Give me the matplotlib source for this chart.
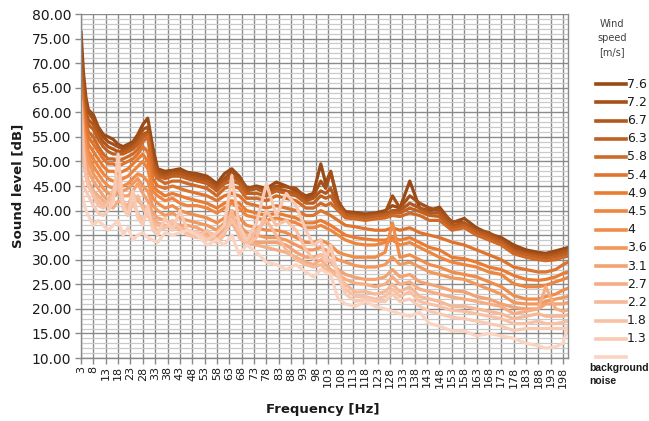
import numpy as np
import matplotlib
matplotlib.use("Agg")
import matplotlib.pyplot as plt
from matplotlib.lines import Line2D
from matplotlib.ticker import MultipleLocator

# frequency points [Hz]
freq = [3, 4, 5, 6, 8, 10,
        12, 14, 16, 18, 20,
        22, 24, 26, 28, 30,
        32, 34, 37, 40, 43,
        46, 50, 54, 58, 61,
        64, 67, 70, 74, 78,
        82, 86, 90, 94, 97,
        100, 102, 104, 107, 110,
        114, 118, 122, 126, 129,
        132, 136, 140, 144, 148,
        153, 158, 163, 168, 173,
        178, 183, 188, 191, 195,
        198, 200]

wind = ["7.6", "7.2", "6.7", "6.3", "5.8", "5.4", "4.9", "4.5",
        "4", "3.6", "3.1", "2.7", "2.2", "1.8", "1.3", "background noise"]

# sound level [dB] per wind speed
s76 = [76.5, 68.0, 63.0, 60.5, 59.5, 57.0,
       55.5, 55.0, 54.5, 53.5, 53.0,
       53.5, 54.0, 55.5, 57.5, 58.8,
       53.0, 48.5, 48.0, 48.2, 48.5,
       47.8, 47.5, 47.0, 45.5, 47.5,
       48.5, 47.0, 44.5, 45.0, 44.5,
       45.8, 45.0, 44.0, 43.0, 43.5,
       49.5, 45.5, 48.0, 41.5, 39.8,
       39.6, 39.3, 39.5, 40.0, 41.0,
       40.5, 46.0, 40.5, 40.0, 40.7,
       37.5, 38.4, 36.5, 35.3, 34.5,
       33.0, 32.0, 31.5, 31.3, 31.8,
       32.2, 32.5]
s72 = [72.0, 66.0, 61.5, 60.0, 58.5, 56.5,
       55.0, 54.0, 53.5, 53.0, 52.5,
       53.0, 53.5, 55.0, 56.5, 57.0,
       51.0, 48.0, 47.5, 47.8, 48.0,
       47.5, 47.0, 46.5, 45.0, 46.5,
       48.0, 46.5, 44.8, 44.5, 44.0,
       45.0, 44.8, 44.5, 42.5, 43.0,
       46.0, 44.5, 47.8, 42.0, 39.5,
       39.3, 39.0, 39.3, 39.5, 43.0,
       40.5, 43.0, 41.5, 40.5, 40.0,
       37.8, 37.5, 36.0, 35.5, 34.0,
       32.5, 31.5, 31.0, 31.0, 31.3,
       31.8, 32.0]
s67 = [70.0, 64.0, 60.0, 58.5, 57.5, 55.5,
       54.0, 53.0, 52.5, 52.0, 52.0,
       52.5, 53.0, 54.0, 55.5, 56.0,
       50.0, 47.5, 47.0, 47.5, 47.5,
       47.0, 46.5, 46.0, 44.5, 46.0,
       47.0, 46.0, 44.0, 44.5, 43.5,
       44.5, 44.0, 43.5, 42.0, 42.5,
       44.0, 43.5, 44.5, 41.0, 39.2,
       39.0, 38.8, 39.0, 39.3, 40.0,
       40.0, 41.5, 40.5, 39.5, 39.5,
       37.0, 37.3, 35.8, 35.0, 33.8,
       32.0, 31.2, 30.8, 30.7, 31.0,
       31.5, 31.8]
s63 = [68.0, 62.5, 59.0, 57.5, 56.5, 54.5,
       53.0, 52.0, 51.5, 51.5, 51.5,
       52.0, 52.5, 53.5, 55.0, 55.5,
       49.0, 47.0, 46.5, 47.0, 47.0,
       46.5, 46.0, 45.5, 44.0, 45.5,
       46.0, 45.5, 43.5, 43.5, 43.0,
       44.0, 43.5, 43.0, 41.5, 41.5,
       43.0, 42.5, 43.0, 40.5, 39.0,
       38.7, 38.5, 38.8, 39.0, 39.5,
       39.5, 40.5, 39.8, 39.0, 38.8,
       36.5, 37.0, 35.5, 34.5, 33.5,
       31.7, 31.0, 30.5, 30.3, 30.6,
       31.0, 31.2]
s58 = [66.0, 61.0, 58.0, 56.0, 55.0, 53.0,
       51.5, 50.5, 50.5, 50.0, 50.5,
       51.0, 51.5, 52.5, 54.0, 55.0,
       48.0, 46.5, 45.5, 46.0, 46.0,
       45.5, 45.0, 44.5, 43.0, 44.5,
       45.0, 44.5, 42.5, 42.5, 42.0,
       43.0, 42.5, 42.0, 40.5, 40.5,
       41.5, 41.0, 41.5, 40.0, 38.5,
       38.3, 38.0, 38.3, 38.5, 39.0,
       38.8, 39.5, 39.0, 38.0, 38.0,
       36.0, 36.5, 35.0, 34.0, 33.0,
       31.2, 30.5, 30.0, 29.8, 30.0,
       30.5, 30.7]
s54 = [65.0, 60.0, 57.0, 55.0, 53.5, 52.0,
       50.5, 49.5, 49.5, 49.0, 49.5,
       50.0, 50.5, 51.5, 53.0, 52.0,
       46.5, 45.0, 44.5, 45.0, 44.5,
       44.0, 43.5, 43.0, 42.0, 43.0,
       43.5, 43.0, 41.5, 41.0, 40.5,
       41.0, 40.5, 40.0, 39.0, 39.0,
       40.0, 39.5, 39.0, 38.0, 37.0,
       36.7, 36.3, 36.0, 36.0, 36.5,
       36.0, 36.5, 35.5, 35.0, 34.5,
       33.6, 33.0, 32.0, 31.0, 30.0,
       28.5, 28.0, 27.5, 27.5, 28.0,
       29.0, 29.5]
s49 = [64.0, 58.5, 55.5, 53.5, 52.0, 50.5,
       49.0, 48.0, 48.0, 47.5, 48.0,
       48.5, 49.5, 50.5, 51.5, 50.0,
       45.0, 44.0, 43.0, 43.5, 43.0,
       42.5, 42.0, 41.5, 40.5, 41.5,
       42.0, 41.5, 40.0, 39.5, 39.0,
       39.5, 39.0, 38.5, 37.5, 37.5,
       38.0, 37.5, 37.0, 36.0, 35.0,
       34.5, 34.2, 34.0, 34.0, 34.5,
       34.0, 34.5, 33.5, 32.5, 32.0,
       30.5, 30.2, 29.5, 28.5, 28.0,
       26.8, 26.0, 25.8, 26.0, 26.5,
       27.2, 27.5]
s45 = [63.0, 57.0, 54.0, 52.0, 50.5, 49.0,
       47.5, 46.5, 46.0, 46.0, 46.5,
       47.0, 48.0, 49.0, 50.0, 48.5,
       44.0, 43.0, 42.0, 42.5, 41.5,
       41.0, 41.0, 40.5, 39.5, 40.5,
       41.5, 40.5, 39.0, 38.5, 38.0,
       38.5, 38.0, 37.5, 36.5, 36.5,
       37.0, 36.5, 36.0, 35.0, 34.0,
       33.3, 33.0, 33.0, 33.5, 34.0,
       33.0, 33.5, 32.5, 31.5, 30.5,
       29.5, 29.0, 28.5, 27.5, 27.0,
       25.1, 24.5, 24.5, 24.8, 25.5,
       26.0, 26.4]
s40 = [62.0, 56.0, 53.0, 51.0, 49.0, 47.5,
       46.0, 45.0, 44.5, 44.5, 45.0,
       45.5, 46.5, 47.5, 47.0, 46.0,
       42.5, 41.5, 40.5, 41.0, 40.0,
       39.5, 39.0, 38.5, 37.5, 38.5,
       40.0, 38.5, 37.0, 36.5, 36.0,
       36.0, 35.5, 34.5, 33.5, 33.5,
       34.0, 33.5, 33.0, 31.5, 31.0,
       30.5, 30.5, 30.5, 31.5, 37.5,
       30.5, 31.0, 30.0, 29.0, 28.5,
       27.5, 27.0, 26.5, 25.5, 24.5,
       22.7, 22.0, 22.0, 22.5, 23.0,
       23.8, 24.2]
s36 = [62.5, 56.5, 52.0, 50.0, 47.5, 46.0,
       44.5, 43.5, 43.0, 43.5, 44.0,
       44.5, 45.5, 46.5, 45.0, 44.0,
       41.0, 40.0, 39.0, 39.5, 38.5,
       38.0, 37.5, 37.0, 36.0, 37.5,
       39.0, 37.0, 35.5, 35.0, 34.5,
       34.5, 34.0, 33.0, 32.0, 32.0,
       32.5, 32.0, 31.0, 30.0, 29.5,
       28.8, 28.5, 28.5, 29.0, 30.5,
       29.0, 29.5, 28.5, 27.5, 27.0,
       26.3, 26.0, 25.0, 24.0, 23.0,
       21.3, 21.0, 21.0, 21.5, 22.0,
       22.3, 22.5]
s31 = [60.0, 54.0, 50.0, 48.0, 46.0, 44.5,
       43.0, 42.0, 42.5, 45.0, 43.0,
       43.0, 44.0, 45.5, 43.5, 42.0,
       39.5, 38.5, 38.0, 37.5, 37.0,
       37.0, 36.5, 35.5, 35.0, 36.5,
       38.0, 36.0, 34.5, 33.5, 33.5,
       33.5, 33.0, 31.5, 30.5, 30.5,
       31.0, 30.5, 29.5, 28.0, 27.0,
       26.4, 26.0, 26.0, 26.5, 28.0,
       26.5, 27.0, 25.5, 25.0, 24.5,
       23.7, 23.5, 22.5, 22.0, 21.0,
       20.3, 20.0, 20.0, 21.0, 21.0,
       21.0, 21.3]
s27 = [58.0, 52.0, 48.0, 46.0, 44.0, 43.0,
       42.0, 41.0, 40.5, 42.0, 41.5,
       41.0, 43.5, 42.0, 41.0, 40.5,
       38.5, 37.5, 37.0, 36.5, 36.5,
       36.0, 35.5, 35.0, 34.0, 36.0,
       37.5, 35.0, 33.5, 33.0, 32.5,
       32.0, 31.5, 30.5, 29.5, 29.0,
       30.0, 29.0, 28.0, 27.0, 26.0,
       25.2, 25.0, 24.5, 25.0, 26.5,
       25.0, 25.5, 24.0, 23.5, 23.0,
       22.4, 22.0, 21.5, 21.0, 20.5,
       19.0, 19.5, 20.0, 24.5, 20.0,
       19.5, 19.8]
s22 = [55.0, 50.0, 47.0, 45.0, 43.5, 42.0,
       41.0, 42.0, 44.0, 47.0, 42.0,
       40.0, 41.0, 43.0, 40.5, 39.0,
       37.5, 37.0, 36.5, 37.5, 36.0,
       35.5, 35.0, 34.5, 33.5, 35.0,
       40.0, 34.5, 33.0, 36.0, 38.0,
       35.0, 32.0, 30.0, 29.0, 28.5,
       29.0, 28.0, 27.5, 26.5, 25.0,
       23.4, 23.5, 23.0, 23.5, 25.0,
       23.5, 24.5, 22.5, 22.0, 21.5,
       20.5, 20.5, 20.0, 19.5, 19.0,
       18.0, 18.5, 19.0, 18.5, 18.5,
       18.5, 18.8]
s18 = [62.0, 52.0, 47.0, 45.0, 43.0, 41.0,
       40.5, 41.5, 43.0, 45.5, 40.5,
       39.0, 41.5, 39.5, 38.0, 39.5,
       37.0, 36.0, 36.5, 38.0, 36.5,
       35.0, 34.5, 36.0, 34.0, 35.5,
       38.0, 36.0, 33.0, 34.5, 40.0,
       37.0, 38.0, 36.0, 32.0, 30.0,
       31.0, 29.5, 30.0, 27.5, 24.0,
       22.5, 22.5, 22.0, 22.5, 24.0,
       22.5, 23.5, 21.5, 21.0, 20.5,
       19.7, 19.5, 19.0, 18.5, 18.0,
       17.0, 17.0, 17.5, 17.0, 17.0,
       17.3, 17.5]
s13 = [47.0, 45.0, 44.0, 43.0, 41.0, 39.5,
       39.0, 40.0, 42.0, 51.5, 41.0,
       39.0, 44.0, 38.5, 37.0, 41.0,
       36.0, 35.0, 38.5, 36.0, 40.0,
       36.0, 35.5, 34.0, 35.5, 37.0,
       47.0, 37.0, 34.0, 37.5, 45.5,
       39.0, 43.5, 41.0, 36.0, 33.0,
       34.0, 30.0, 33.0, 26.5, 23.0,
       21.5, 22.0, 21.5, 21.5, 23.0,
       21.5, 22.0, 20.5, 19.5, 19.0,
       18.3, 18.0, 17.5, 17.0, 16.5,
       15.6, 16.0, 16.0, 16.0, 16.0,
       16.0, 16.2]
bg = [45.0, 42.0, 40.0, 39.0, 37.0, 38.0,
      37.0, 36.0, 37.0, 38.0, 35.0,
      36.5, 34.0, 35.0, 35.5, 34.5,
      34.0, 33.5, 35.5, 35.0, 35.5,
      36.0, 35.0, 33.0, 34.0, 33.0,
      35.0, 31.0, 33.0, 31.5, 29.5,
      29.0, 28.0, 29.0, 27.5, 26.5,
      28.0, 27.5, 27.0, 22.0, 21.0,
      20.5, 21.5, 20.5, 20.0, 19.5,
      19.0, 18.5, 19.3, 17.0, 16.5,
      15.5, 15.5, 14.5, 15.0, 14.5,
      14.0, 13.0, 12.5, 12.0, 12.3,
      13.0, 16.5]

series = [s76, s72, s67, s63, s58, s54, s49, s45,
          s40, s36, s31, s27, s22, s18, s13, bg]
colors = ["#9A4A16", "#A65019", "#B2581D", "#BF6122", "#D06A28", "#DF742E",
          "#EA7C32", "#EF853E", "#F18D4B", "#F3985C", "#F4A271", "#F5AD83",
          "#F7B895", "#F8C1A5", "#F9CAB3", "#FAD3C1"]
freq_ticks = list(range(3, 199, 5))

W, H = 649, 421
fig = plt.figure(figsize=(W / 100, H / 100), dpi=100)
ax = fig.add_axes([81 / W, 1 - 358 / H, 487 / W, 344 / H])

# grid: light 1 dB lines, darker 5 dB lines, vertical every 5 Hz
ax.set_ylim(10, 80)
ax.set_xlim(3, 200)
ax.yaxis.set_major_locator(MultipleLocator(5))
ax.yaxis.set_minor_locator(MultipleLocator(1))
ax.set_xticks(freq_ticks)
ax.set_xticklabels([str(f) for f in freq_ticks], rotation=90)
ax.set_yticks(np.arange(10, 81, 5))
ax.set_yticklabels([f"{v:.2f}" for v in np.arange(10, 81, 5)])
ax.grid(True, which="minor", axis="y", color="#CACACA", linewidth=0.9)
ax.grid(True, which="major", axis="y", color="#8A8A8A", linewidth=1.0)
ax.grid(True, which="major", axis="x", color="#8A8A8A", linewidth=1.0)
ax.set_axisbelow(True)

ax.spines["top"].set_visible(False)
for sp in ["left", "bottom", "right"]:
    ax.spines[sp].set_color("#8A8A8A")
    ax.spines[sp].set_linewidth(1.0)

ax.tick_params(axis="both", which="major", color="#8A8A8A", length=4,
               width=1.0, colors="#1A1A1A")
ax.tick_params(axis="y", which="major", labelsize=10, pad=3)
ax.tick_params(axis="x", which="major", labelsize=8, pad=2)
ax.tick_params(axis="y", which="minor", length=0)

for vals, col in zip(series, colors):
    ax.plot(freq, vals, color=col, linewidth=2.3, solid_joinstyle="round",
            solid_capstyle="round")

fig.text(18 / W, 1 - 186 / H, "Sound level [dB]", rotation=90, ha="center",
         va="center", fontsize=9.5, fontweight="bold", color="#1A1A1A")
fig.text(323 / W, 1 - 410 / H, "Frequency [Hz]", ha="center", va="center",
         fontsize=9.5, fontweight="bold", color="#1A1A1A")

# legend drawn by hand to match the stacked layout
fig.text(612 / W, 1 - 38 / H, "Wind\nspeed\n[m/s]", ha="center", va="center",
         fontsize=7, color="#404040", linespacing=1.45)
for i, (lab, col) in enumerate(zip(wind, colors)):
    y = 1 - (84.3 + 18.17 * i) / H
    fig.add_artist(Line2D([596 / W, 626 / W], [y, y], color=col,
                          linewidth=2.6, transform=fig.transFigure))
    if i < len(wind) - 1:
        fig.text(627 / W, y, lab, ha="left", va="center", fontsize=9,
                 color="#1A1A1A")
    else:
        fig.text(589 / W, y - 6 / H, "background\nnoise", ha="left", va="top",
                 fontsize=7.5, fontweight="bold", family="Liberation Sans",
                 color="#1A1A1A", linespacing=1.45)

fig.savefig("out.png", dpi=100)
